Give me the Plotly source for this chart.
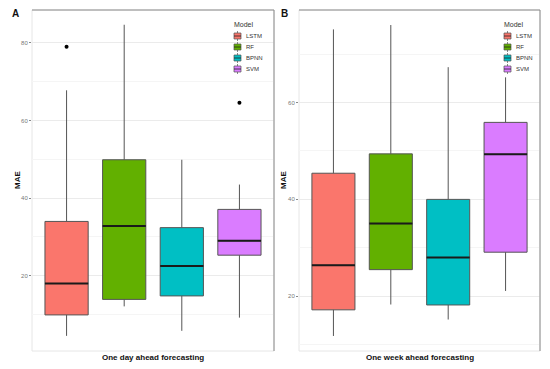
import plotly.graph_objects as go

models = ["LSTM", "RF", "BPNN", "SVM"]
colors = ["#FA766C", "#62B000", "#00BFC4", "#DA7CFF"]

# Panel A: one day ahead
a_low = [4.5, 12.1, 5.8, 9.2]
a_q1 = [9.9, 13.9, 14.8, 25.3]
a_med = [18.0, 32.8, 22.5, 29.0]
a_q3 = [34.0, 49.9, 32.4, 37.1]
a_high = [67.8, 84.7, 49.9, 43.5]
a_out_model = [1, 4]
a_out_val = [79.0, 64.6]

# Panel B: one week ahead
b_low = [11.8, 18.3, 15.2, 21.1]
b_q1 = [17.2, 25.5, 18.2, 29.1]
b_med = [26.4, 35.0, 28.0, 49.3]
b_q3 = [45.4, 49.4, 40.0, 55.9]
b_high = [75.1, 76.0, 67.3, 65.2]

a_ticks = [20, 40, 60, 80]
b_ticks = [20, 40, 60]

W, H = 550, 369
fig = go.Figure()

BOXW = 0.75

def add_panel(xa, ya, low, q1, med, q3, high):
    for i, m in enumerate(models):
        pos = i + 1
        fig.add_trace(go.Box(
            x=[pos], q1=[q1[i]], median=[med[i]], q3=[q3[i]],
            lowerfence=[low[i]], upperfence=[high[i]],
            width=BOXW, whiskerwidth=0, boxpoints=False,
            fillcolor=colors[i], line=dict(color="#555555", width=1),
            name=m, xaxis=xa, yaxis=ya, showlegend=False, hoverinfo="skip"))
    for i, m in enumerate(models):
        pos = i + 1
        fig.add_trace(go.Scatter(
            x=[pos - BOXW / 2, pos + BOXW / 2], y=[med[i], med[i]],
            mode="lines", line=dict(color="#1a1a1a", width=2),
            showlegend=False, xaxis=xa, yaxis=ya, hoverinfo="skip"))

add_panel("x", "y", a_low, a_q1, a_med, a_q3, a_high)
add_panel("x2", "y2", b_low, b_q1, b_med, b_q3, b_high)

fig.add_trace(go.Scatter(x=a_out_model, y=a_out_val, mode="markers",
                         marker=dict(color="black", size=4), showlegend=False,
                         xaxis="x", yaxis="y", hoverinfo="skip"))

axA = [32 / W, 274 / W]
axB = [299 / W, 540 / W]
ydom = [1 - 351 / H, 1 - 10 / H]

xcommon = dict(range=[0.4, 4.6], showticklabels=False, ticks="", showgrid=False,
               zeroline=False, showline=False)
ycommon = dict(showgrid=True, gridcolor="#ebebeb", gridwidth=1,
               minor=dict(showgrid=True, gridcolor="#f5f5f5", gridwidth=1, dtick=10, tick0=0),
               zeroline=False, showline=False, ticks="outside", ticklen=2,
               tickcolor="#888888", tickfont=dict(size=6, color="#777777"))

fig.update_layout(
    width=W, height=H, margin=dict(l=0, r=0, t=0, b=0),
    paper_bgcolor="white", plot_bgcolor="white",
    font=dict(family="Liberation Sans, Arial", color="#333333"),
    boxmode="overlay", showlegend=False,
    xaxis=dict(domain=axA, anchor="y", **xcommon),
    xaxis2=dict(domain=axB, anchor="y2", **xcommon),
    yaxis=dict(domain=ydom, anchor="x", range=[0.6, 88.5], tickvals=a_ticks, **ycommon),
    yaxis2=dict(domain=ydom, anchor="x2", range=[8.7, 79.1], tickvals=b_ticks, **ycommon),
)

# panel borders
for dom in (axA, axB):
    fig.add_shape(type="rect", xref="paper", yref="paper", x0=dom[0], x1=dom[1],
                  y0=ydom[0], y1=ydom[1], line=dict(color="#e6e6e6", width=1), layer="below")
    fig.add_shape(type="line", xref="paper", yref="paper", x0=dom[0], x1=dom[1],
                  y0=ydom[1], y1=ydom[1], line=dict(color="#8a8a8a", width=1))
    fig.add_shape(type="line", xref="paper", yref="paper", x0=dom[1], x1=dom[1],
                  y0=ydom[0], y1=ydom[1], line=dict(color="#8a8a8a", width=1))

def ann(text, x, y, size, bold=True, angle=0, xanchor="center", color="#111111"):
    fig.add_annotation(text=f"<b>{text}</b>" if bold else text, x=x / W, y=1 - y / H,
                       xref="paper", yref="paper", showarrow=False, textangle=angle,
                       font=dict(size=size, color=color), xanchor=xanchor, yanchor="middle")

ann("A", 15, 14, 10)
ann("B", 284, 14, 10)
ann("MAE", 17, 180, 8, angle=-90)
ann("MAE", 283, 180, 8, angle=-90)
ann("One day ahead forecasting", 153, 357, 8)
ann("One week ahead forecasting", 420, 357, 8)

# manual legends (ggplot-style, compact)
legend_rows = [36, 47, 58, 69]
for lx in (233, 503):
    ann("Model", lx - 1, 24, 7, bold=False, xanchor="left", color="#333333")
    for i, m in enumerate(models):
        yc = legend_rows[i]
        kx0, kx1 = lx + 1, lx + 8
        fig.add_shape(type="line", xref="paper", yref="paper",
                      x0=(kx0 + kx1) / 2 / W, x1=(kx0 + kx1) / 2 / W,
                      y0=1 - (yc + 5) / H, y1=1 - (yc - 5) / H,
                      line=dict(color="#888888", width=1))
        fig.add_shape(type="rect", xref="paper", yref="paper",
                      x0=kx0 / W, x1=kx1 / W, y0=1 - (yc + 3) / H, y1=1 - (yc - 3) / H,
                      fillcolor=colors[i], line=dict(color="#555555", width=0.7))
        fig.add_shape(type="line", xref="paper", yref="paper",
                      x0=kx0 / W, x1=kx1 / W, y0=1 - yc / H, y1=1 - yc / H,
                      line=dict(color="#222222", width=0.8))
        ann(m, lx + 11, yc, 6, bold=False, xanchor="left", color="#333333")

fig.write_html("out.html", config={"displayModeBar": False},
               post_script="document.body.style.margin='0';document.body.style.overflow='hidden';")
